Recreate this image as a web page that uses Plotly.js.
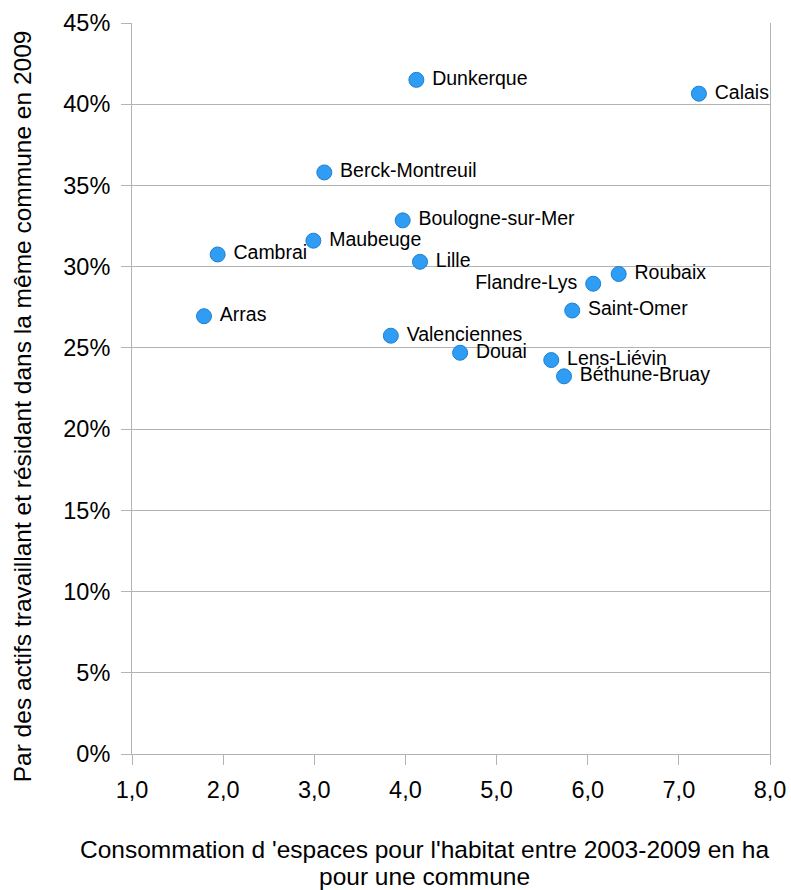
<!DOCTYPE html>
<html>
<head>
<meta charset="utf-8">
<script src="https://cdn.plot.ly/plotly-3.0.1.min.js"></script>
<style>html,body{margin:0;padding:0;background:#fff;}#chart{width:791px;height:890px;}</style>
</head>
<body>
<div id="chart"></div>
<script>
const names = ["Dunkerque","Calais","Berck-Montreuil","Boulogne-sur-Mer","Maubeuge","Cambrai","Lille","Roubaix","Flandre-Lys","Saint-Omer","Arras","Valenciennes","Douai","Lens-Liévin","Béthune-Bruay"];
const consommation = [4.12,7.22,3.11,3.97,2.99,1.94,4.16,6.34,6.06,5.83,1.79,3.84,4.60,5.60,5.74];
const partActifs = [41.5,40.65,35.8,32.85,31.6,30.75,30.3,29.55,28.95,27.3,26.95,25.75,24.7,24.25,23.25];
const labelSide = ["right","right","right","right","right","right","right","right","left","right","right","right","right","right","right"];
const xTickVals = [1,2,3,4,5,6,7,8];
const xTickText = ["1,0","2,0","3,0","4,0","5,0","6,0","7,0","8,0"];
const yTickVals = [0,5,10,15,20,25,30,35,40,45];
const yTickText = ["0%","5%","10%","15%","20%","25%","30%","35%","40%","45%"];
const xTitleLines = ["Consommation d 'espaces pour l'habitat entre 2003-2009 en ha", "pour une commune"];
const yTitle = "Par des actifs travaillant et résidant dans la même commune en 2009";

const NB = "\u00a0";
const labels = names.map((n,i)=> labelSide[i]==="left" ? n+NB : NB+n);
const positions = labelSide.map(s => "middle " + s);

const FONT = "Liberation Sans, Arial, sans-serif";
const trace = {
  type: "scatter",
  mode: "markers+text",
  x: consommation,
  y: partActifs,
  text: labels,
  textposition: positions,
  textfont: {family: FONT, size: 19.5, color: "#000"},
  marker: {size: 15, color: "#2e9df3", line: {color: "#1f7fd2", width: 1}},
  hoverinfo: "none",
  cliponaxis: false
};

const xTitleY = [-0.130, -0.167];
const annotations = xTitleLines.map((t, i) => ({
  xref: "paper", yref: "paper", x: 0.458, y: xTitleY[i], xanchor: "center", yanchor: "middle",
  text: t, showarrow: false, font: {family: FONT, size: 24.5, color: "#000"}
}));
annotations.push({xref: "paper", yref: "paper", x: -0.172, y: 0.476, xanchor: "center", yanchor: "middle",
  text: yTitle, textangle: -90, showarrow: false, font: {family: FONT, size: 24.5, color: "#000"}});

const layout = {
  width: 791, height: 890,
  margin: {l: 132, r: 21, t: 23, b: 136},
  paper_bgcolor: "#fff", plot_bgcolor: "#fff",
  showlegend: false,
  font: {family: FONT, color: "#000"},
  xaxis: {
    range: [1, 8], tickmode: "array", tickvals: xTickVals, ticktext: xTickText,
    showgrid: false, zeroline: false,
    showline: true, linecolor: "#b3b3b3", linewidth: 1,
    ticks: "outside", ticklen: 10, tickcolor: "#b3b3b3", tickwidth: 1,
    ticklabelstandoff: 5,
    tickfont: {family: FONT, size: 23.5, color: "#000"}
  },
  yaxis: {
    range: [0, 45], tickmode: "array", tickvals: yTickVals, ticktext: yTickText,
    showgrid: true, gridcolor: "#b3b3b3", gridwidth: 1, zeroline: false,
    showline: true, mirror: true, linecolor: "#b3b3b3", linewidth: 1,
    ticks: "outside", ticklen: 10, tickcolor: "#b3b3b3", tickwidth: 1,
    ticklabelstandoff: 6,
    tickfont: {family: FONT, size: 23.5, color: "#000"}
  },
  annotations: annotations
};

Plotly.newPlot("chart", [trace], layout, {staticPlot: true, displayModeBar: false});
</script>
</body>
</html>
